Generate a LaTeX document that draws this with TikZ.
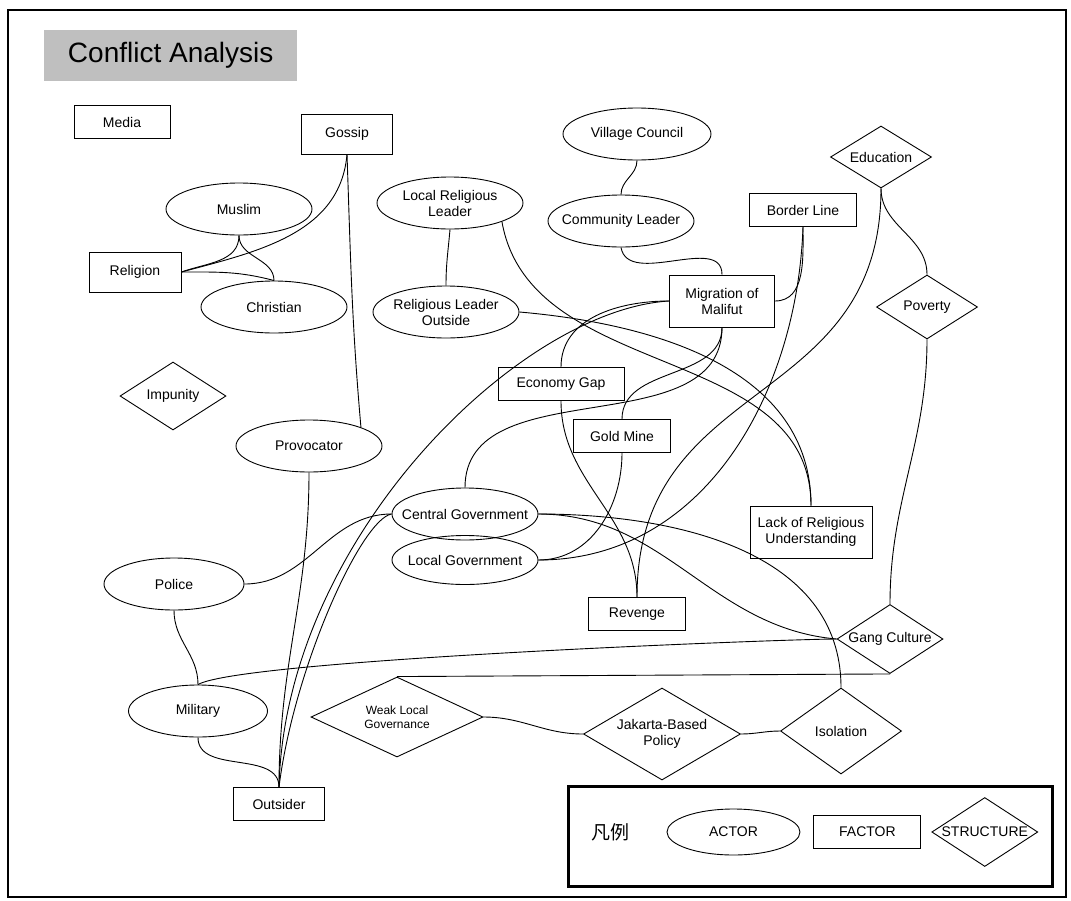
\documentclass[tikz,border=0pt]{standalone}
\usepackage{fontspec}
\setmainfont{Liberation Sans}
\newfontfamily\cjk{Noto Sans CJK SC}
\usetikzlibrary{positioning,shapes.geometric}

\begin{document}
\begin{tikzpicture}[x=1pt,y=1pt,
	every node/.style={font=\fontsize{14}{16}\selectfont},
	actor/.style={draw,line width=0.9pt,ellipse,minimum width=146pt,minimum height=52pt,inner xsep=-15pt,inner ysep=0pt,align=center},
	factor/.style={draw,line width=0.9pt,rectangle,minimum width=96pt,minimum height=33pt,inner sep=0pt,align=center},
	structure/.style={draw,line width=0.9pt,diamond,aspect=1.5,minimum width=106pt,minimum height=69pt,inner sep=0pt,align=center},
	link/.style={line width=0.9pt}]
	\useasboundingbox (0,0) rectangle (1071,-900);
	\draw[line width=1.2pt] (8,-10) rectangle (1066,-897);
	\node (title) [fill=black!25,anchor=north west,minimum width=253pt,minimum height=51pt,
		font=\fontsize{28}{30}\selectfont] at (44,-30) {Conflict Analysis};

	% actors
	\node (muslim) [actor] at (239,-209) {Muslim};
	\node (christian) [actor] at (274,-307) {Christian};
	\node (provocator) [actor] at (309,-446) {Provocator};
	\node (police) [actor,minimum width=140pt] at (174,-584) {Police};
	\node (military) [actor,minimum width=139pt] at (198,-711) {Military};
	\node (village) [actor,minimum width=148pt] at (637,-134) {Village Council};
	\node (community) [actor] at (621,-221) {Community Leader};
	\node (localrel) [actor] at (450,-203) {Local Religious\\Leader};
	\node (reloutside) [actor] at (446,-312) {Religious Leader\\Outside};
	\node (central) [actor] at (465,-514) {Central Government};
	\node (localgov) [actor,minimum height=49pt] at (465,-560) {Local Government};

	% factors
	\node (media) [factor] at (122,-122) {Media};
	\node (gossip) [factor,minimum width=91pt,minimum height=40pt] at (347,-134) {Gossip};
	\node (religion) [factor,minimum width=92pt,minimum height=40pt] at (135,-272) {Religion};
	\node (outsider) [factor,minimum width=91pt] at (279,-804) {Outsider};
	\node (revenge) [factor,minimum width=97pt] at (637,-614) {Revenge};
	\node (econgap) [factor,minimum width=126pt] at (561,-384) {Economy Gap};
	\node (goldmine) [factor,minimum width=97pt] at (622,-436) {Gold Mine};
	\node (border) [factor,minimum width=107pt] at (803,-210) {Border Line};
	\node (migration) [factor,minimum width=105pt,minimum height=52pt] at (722,-301) {Migration of\\Malifut};
	\node (lackrel) [factor,minimum width=122pt,minimum height=52pt] at (811,-532) {Lack of Religious\\Understanding};

	% structures
	\node (impunity) [structure,minimum height=68pt] at (173,-396) {Impunity};
	\node (education) [structure,minimum width=101pt,minimum height=62pt] at (881,-157) {Education};
	\node (poverty) [structure,minimum width=101pt,minimum height=64pt] at (927,-307) {Poverty};
	\node (gang) [structure] at (890,-639) {Gang Culture};
	\node (weak) [structure,minimum width=172pt,minimum height=80pt,
		font=\fontsize{12}{14}\selectfont] at (397,-717) {Weak Local\\Governance};
	\node (jakarta) [structure,aspect=1.7,minimum width=157pt,minimum height=92pt] at (662,-734) {Jakarta-Based\\Policy};
	\node (isolation) [structure,minimum width=121pt,minimum height=86pt] at (841,-731) {Isolation};

	% links
	\draw[link] (gossip.south) to[out=-95,in=15] (religion.east);
	\draw[link] (gossip.south) to[out=-88,in=95] (provocator.north east);
	\draw[link] (muslim.south) to[out=-90,in=20] (religion.east);
	\draw[link] (muslim.south) to[out=-90,in=90] (christian.north);
	\draw[link] (religion.east) to[out=0,in=165] (christian.north);
	\draw[link] (localrel.south) to[out=-95,in=90] (reloutside.north);
	\draw[link] (village.south) to[out=-90,in=90] (community.north);
	\draw[link] (community.south) to[out=-80,in=90] (migration.north);
	\draw[link] (localrel.south east) to[out=-80,in=90] (lackrel.north);
	\draw[link] (reloutside.east) to[out=-5,in=90] (lackrel.north);
	\draw[link] (migration.west) .. controls +(-150,-9) and +(6,248) .. (outsider.north);
	\draw[link] (migration.west) to[out=180,in=90] (econgap.north);
	\draw[link] (migration.south) to[out=-90,in=90] (goldmine.north);
	\draw[link] (migration.south) to[out=-90,in=90] (central.north);
	\draw[link] (border.south) to[out=-90,in=0] (migration.east);
	\draw[link] (border.south) to[out=-92,in=0] (localgov.east);
	\draw[link] (education.south) to[out=-90,in=90] (poverty.north);
	\draw[link] (education.south) to[out=-90,in=90,looseness=1.2] (revenge.north);
	\draw[link] (poverty.south) to[out=-90,in=90] (gang.north);
	\draw[link] (econgap.south) to[out=-90,in=90] (revenge.north);
	\draw[link] (goldmine.south) to[out=-90,in=0] (localgov.east);
	\draw[link] (central.west) to[out=180,in=0] (police.east);
	\draw[link] (central.west) .. controls +(-30,-5) and +(15,120) .. (outsider.north);
	\draw[link] (provocator.south) to[out=-90,in=90] (outsider.north);
	\draw[link] (police.south) to[out=-90,in=90] (military.north);
	\draw[link] (military.south) to[out=-90,in=90] (outsider.north);
	\draw[link] (military.north) to[out=30,in=180,looseness=0.2] (gang.west);
	\draw[link] (weak.north) -- (gang.south);
	\draw[link] (weak.east) to[out=0,in=180] (jakarta.west);
	\draw[link] (jakarta.east) to[out=0,in=180] (isolation.west);
	\draw[link] (central.east) to[out=0,in=175] (gang.west);
	\draw[link] (central.east) to[out=0,in=90] (isolation.north);

	% legend
	\draw[line width=3pt] (568,-786) rectangle (1052,-886);
	\node (legendlbl) at (610,-832) {\cjk\fontsize{19}{21}\selectfont 凡例};
	\node (legactor) [actor,minimum width=133pt,minimum height=46pt,right=34pt of legendlbl] {ACTOR};
	\node (legfactor) [factor,minimum width=107pt,right=13pt of legactor] {FACTOR};
	\node (legstructure) [structure,right=10pt of legfactor] {STRUCTURE};
\end{tikzpicture}
\end{document}
